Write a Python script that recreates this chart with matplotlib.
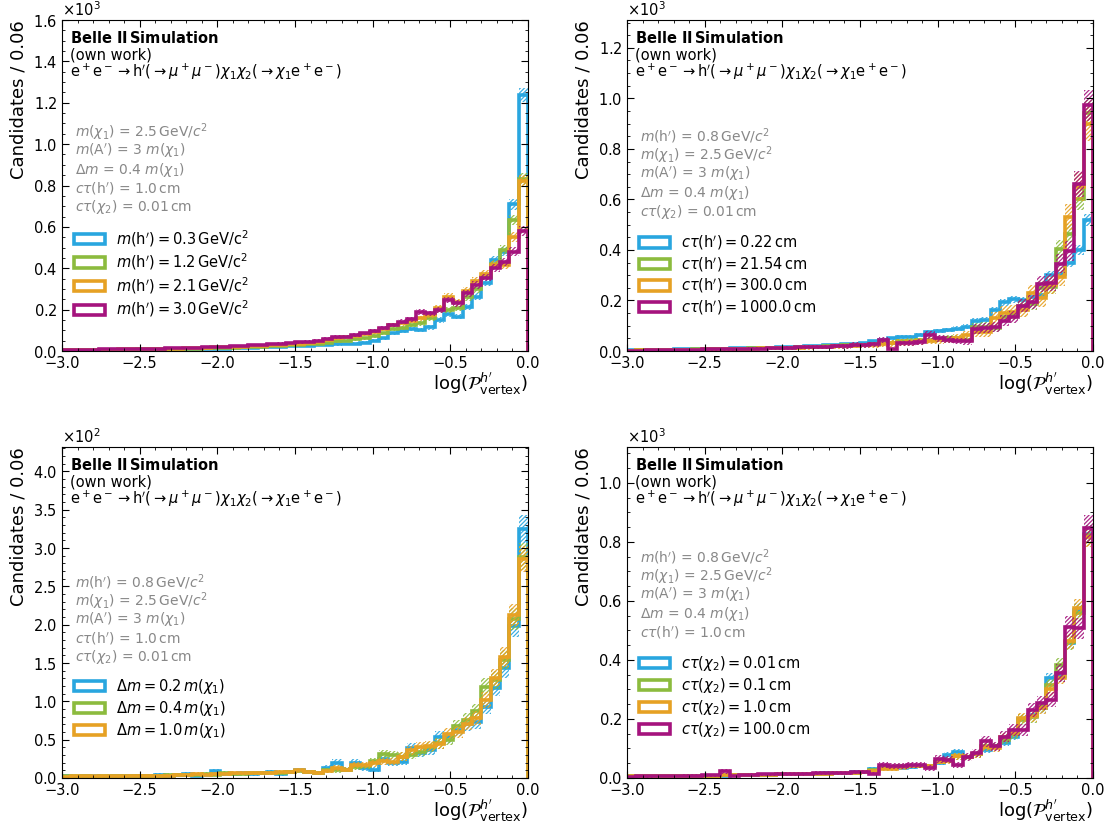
import matplotlib.pyplot as plt
import numpy as np
from matplotlib.patches import Patch
from matplotlib.ticker import AutoMinorLocator, MultipleLocator

plt.rcParams['font.family'] = 'DejaVu Sans'
plt.rcParams['mathtext.fontset'] = 'dejavusans'
plt.rcParams['hatch.linewidth'] = 0.9

# 50 bins of log(P_vertex) between -3 and 0
edges = np.linspace(-3.0, 0.0, 51)
colors = ['#29a6df', '#8cbb3e', '#e6a124', '#a5137d']

# --- m(h') scan (counts per bin)
mh_03 = [3, 3, 4, 4, 5, 5, 5, 6, 6, 7, 7, 8, 8, 9, 9, 10, 11, 12, 13, 14,
         15, 17, 18, 20, 22, 24, 26, 28, 30, 32, 34, 36, 40, 50, 62,
         85, 98, 105, 100, 114, 150, 180, 166, 214, 262, 330, 440, 480, 710, 1237]
mh_12 = [4, 4, 5, 5, 6, 6, 7, 7, 8, 8, 9, 10, 10, 11, 12, 13, 14, 15, 16, 18,
         19, 21, 23, 25, 27, 30, 33, 36, 40, 46, 50, 56, 62, 72, 85,
         105, 110, 126, 134, 158, 200, 198, 206, 260, 300, 360, 420, 490, 633, 831]
mh_21 = [5, 5, 6, 6, 7, 7, 8, 9, 9, 10, 11, 12, 12, 13, 14, 16, 17, 18, 20, 21,
         23, 26, 28, 31, 33, 36, 40, 45, 52, 62, 66, 74, 80, 92, 105,
         125, 134, 147, 158, 174, 206, 262, 235, 290, 340, 372, 415, 415, 552, 820]
mh_30 = [6, 6, 7, 7, 8, 8, 9, 10, 11, 11, 12, 13, 14, 15, 16, 18, 19, 21, 22, 24,
         27, 30, 33, 36, 39, 42, 45, 50, 60, 68, 70, 78, 85, 98, 110,
         126, 142, 153, 187, 182, 198, 246, 230, 280, 320, 355, 400, 430, 480, 581]
mh_labels = [r'$m(\mathrm{h}^\prime) = 0.3\,\mathrm{GeV/c^2}$',
             r'$m(\mathrm{h}^\prime) = 1.2\,\mathrm{GeV/c^2}$',
             r'$m(\mathrm{h}^\prime) = 2.1\,\mathrm{GeV/c^2}$',
             r'$m(\mathrm{h}^\prime) = 3.0\,\mathrm{GeV/c^2}$']

# --- c*tau(h') scan
ct_022 = [3, 4, 4, 5, 4, 6, 6, 7, 8, 9, 9, 10, 11, 12, 13, 13, 15, 16, 17, 19,
          20, 22, 24, 26, 28, 30, 38, 42, 50, 55, 56, 65, 76, 80, 83,
          88, 96, 118, 122, 162, 192, 205, 200, 215, 222, 300, 305, 350, 400, 518]
ct_2154 = [2, 3, 3, 4, 4, 5, 5, 6, 6, 7, 8, 8, 9, 10, 10, 11, 12, 13, 14, 16,
           17, 18, 20, 22, 24, 25, 28, 30, 33, 38, 40, 42, 45, 48, 50,
           50, 45, 95, 96, 90, 133, 142, 180, 188, 248, 254, 403, 465, 600, 942]
ct_300 = [2, 3, 3, 3, 4, 4, 5, 5, 6, 6, 7, 8, 8, 9, 10, 10, 11, 12, 13, 14,
          15, 16, 18, 19, 21, 22, 25, 27, 30, 33, 35, 38, 40, 42, 45,
          50, 63, 76, 76, 130, 149, 155, 162, 228, 208, 260, 294, 530, 650, 900]
ct_1000 = [2, 2, 3, 3, 4, 4, 5, 5, 6, 6, 7, 7, 8, 9, 9, 10, 11, 12, 14, 15,
           16, 17, 19, 18, 24, 22, 26, 43, 8, 30, 32, 35, 62, 50, 45,
           40, 38, 88, 92, 96, 120, 135, 180, 195, 265, 270, 345, 395, 660, 972]
ct_labels = [r'$c\tau(\mathrm{h}^\prime) = 0.22\,\mathrm{cm}$',
             r'$c\tau(\mathrm{h}^\prime) = 21.54\,\mathrm{cm}$',
             r'$c\tau(\mathrm{h}^\prime) = 300.0\,\mathrm{cm}$',
             r'$c\tau(\mathrm{h}^\prime) = 1000.0\,\mathrm{cm}$']

# --- mass splitting scan
dm_02 = [2, 1, 2, 2, 1, 2, 3, 2, 3, 2, 4, 3, 4, 5, 3, 4, 9, 5, 5, 6,
         5, 7, 8, 5, 8, 10, 8, 7, 13, 20, 11, 20, 13, 11, 25,
         20, 21, 39, 33, 36, 54, 53, 63, 70, 73, 93, 118, 143, 198, 325]
dm_04 = [2, 2, 2, 1, 2, 2, 3, 3, 3, 3, 3, 4, 4, 4, 4, 5, 4, 6, 5, 5,
         6, 6, 7, 7, 8, 9, 8, 7, 10, 10, 11, 14, 15, 22, 31,
         30, 28, 30, 34, 40, 45, 50, 68, 76, 87, 119, 128, 154, 208, 289]
dm_10 = [1, 2, 2, 2, 2, 2, 2, 3, 3, 3, 3, 3, 4, 4, 5, 4, 5, 5, 6, 6,
         6, 6, 7, 8, 8, 10, 8, 7, 9, 13, 11, 17, 17, 19, 22,
         21, 28, 36, 41, 42, 44, 58, 60, 71, 78, 102, 131, 158, 213, 286]
dm_labels = [r'$\Delta m = 0.2\,m(\chi_1)$',
             r'$\Delta m = 0.4\,m(\chi_1)$',
             r'$\Delta m = 1.0\,m(\chi_1)$']

# --- c*tau(chi2) scan
cx_001 = [5, 6, 5, 6, 7, 6, 7, 7, 8, 8, 8, 9, 10, 9, 11, 11, 12, 13, 13, 14,
          15, 16, 17, 18, 19, 20, 30, 34, 36, 35, 38, 40, 42, 50, 78,
          88, 70, 80, 96, 107, 119, 139, 200, 212, 237, 339, 345, 457, 570, 827]
cx_01 = [5, 5, 6, 6, 6, 7, 7, 7, 8, 8, 9, 9, 9, 10, 10, 11, 12, 12, 13, 14,
         15, 15, 16, 17, 18, 19, 28, 33, 36, 40, 42, 40, 40, 55, 60,
         73, 72, 80, 108, 107, 130, 148, 198, 205, 243, 315, 384, 460, 560, 822]
cx_10 = [5, 5, 5, 6, 6, 7, 7, 7, 8, 8, 9, 9, 9, 10, 11, 11, 12, 12, 13, 14,
         14, 15, 16, 17, 18, 19, 25, 30, 32, 36, 40, 42, 40, 55, 58,
         73, 70, 80, 105, 102, 139, 153, 203, 209, 237, 300, 340, 465, 576, 817]
cx_100 = [4, 5, 5, 6, 6, 7, 8, 8, 9, 9, 22, 6, 10, 11, 12, 12, 13, 14, 14, 15,
          16, 16, 17, 18, 19, 19, 15, 45, 42, 40, 43, 45, 34, 64, 62,
          45, 70, 85, 124, 107, 139, 164, 164, 229, 254, 265, 356, 512, 508, 847]
cx_labels = [r'$c\tau(\chi_2) = 0.01\,\mathrm{cm}$',
             r'$c\tau(\chi_2) = 0.1\,\mathrm{cm}$',
             r'$c\tau(\chi_2) = 1.0\,\mathrm{cm}$',
             r'$c\tau(\chi_2) = 100.0\,\mathrm{cm}$']

# event weights of the samples (set the size of the stat. uncertainty)
mh_w = [1, 1, 1, 1]
ct_w = [1, 3, 5, 4]
dm_w = [1, 1, 1]
cx_w = [1, 1.5, 1.5, 2.5]

p_mh = r'$m(\mathrm{h}^\prime)$ = 0.8$\,$GeV/$c^2$'
p_mx = r'$m(\chi_1)$ = 2.5$\,$GeV/$c^2$'
p_ma = r'$m(\mathrm{A}^\prime)$ = 3 $m(\chi_1)$'
p_dm = r'$\Delta m$ = 0.4 $m(\chi_1)$'
p_cth = r'$c\tau(\mathrm{h}^\prime)$ = 1.0$\,$cm'
p_ctx = r'$c\tau(\chi_2)$ = 0.01$\,$cm'

process = (r'$\mathrm{e^+e^-}\rightarrow\mathrm{h}^\prime(\rightarrow\mu^+\mu^-)'
           r'\chi_1\chi_2(\rightarrow\chi_1\mathrm{e^+e^-})$')


def panel(ax, hists, labels, weights, params, ytop, ystep, ptop, ltop):
    centers = 0.5 * (edges[1:] + edges[:-1])
    for h, c, w in zip(hists, colors, weights):
        h = np.array(h, dtype=float)
        err = np.sqrt(w * h)
        ax.bar(centers, 2 * err, bottom=h - err, width=0.06, fill=False,
               hatch='////////', edgecolor=c, linewidth=0, alpha=0.9)
        ax.stairs(h, edges, color=c, linewidth=2.6, baseline=0)

    ax.set_xlim(-3.0, 0.0)
    ax.set_ylim(0, ytop)
    ax.xaxis.set_major_locator(MultipleLocator(0.5))
    ax.xaxis.set_minor_locator(AutoMinorLocator(5))
    ax.yaxis.set_major_locator(MultipleLocator(ystep))
    ax.yaxis.set_minor_locator(AutoMinorLocator())
    ax.ticklabel_format(axis='y', style='sci', scilimits=(0, 0), useMathText=True)
    ax.yaxis.get_offset_text().set_fontsize(10.5)
    ax.tick_params(which='both', direction='in', top=True, right=True, labelsize=10.5)
    ax.tick_params(which='major', length=5)
    ax.tick_params(which='minor', length=2.5)

    ax.set_xlabel(r'$\log(\mathcal{P}^{h^\prime}_{\mathrm{vertex}})$', loc='right',
                  fontsize=13, labelpad=0)
    ax.set_ylabel('Candidates / 0.06', loc='top', fontsize=13)

    ax.text(0.017, 0.946, r'Belle II$\,$Simulation', transform=ax.transAxes,
            fontsize=10.5, fontweight='bold', va='center')
    ax.text(0.017, 0.894, '(own work)', transform=ax.transAxes, fontsize=10.5, va='center')
    ax.text(0.017, 0.843, process, transform=ax.transAxes, fontsize=10.5, va='center')
    for i, p in enumerate(params):
        ax.text(0.028, ptop - 0.057 * i, p, transform=ax.transAxes, fontsize=10,
                color='#888888', va='center')

    handles = [Patch(facecolor='none', edgecolor=c, linewidth=2.6) for c in colors[:len(labels)]]
    ax.legend(handles, labels, loc='upper left', bbox_to_anchor=(0.026, ltop),
              frameon=False, fontsize=10.5, borderpad=0, borderaxespad=0,
              handlelength=2.1, handleheight=0.7, handletextpad=0.75, labelspacing=0.2)


fig = plt.figure(figsize=(11.09, 8.30), dpi=100)
ax1 = fig.add_axes([0.0559, 0.5771, 0.4202, 0.3988])
ax2 = fig.add_axes([0.5654, 0.5771, 0.4202, 0.3988])
ax3 = fig.add_axes([0.0559, 0.0627, 0.4202, 0.3988])
ax4 = fig.add_axes([0.5654, 0.0627, 0.4202, 0.3988])

panel(ax1, [mh_03, mh_12, mh_21, mh_30], mh_labels, mh_w,
      [p_mx, p_ma, p_dm, p_cth, p_ctx], 1600, 200, 0.662, 0.372)
panel(ax2, [ct_022, ct_2154, ct_300, ct_1000], ct_labels, ct_w,
      [p_mh, p_mx, p_ma, p_dm, p_ctx], 1310, 200, 0.648, 0.355)
panel(ax3, [dm_02, dm_04, dm_10], dm_labels, dm_w,
      [p_mh, p_mx, p_ma, p_cth, p_ctx], 432, 50, 0.592, 0.305)
panel(ax4, [cx_001, cx_01, cx_10, cx_100], cx_labels, cx_w,
      [p_mh, p_mx, p_ma, p_dm, p_cth], 1122, 200, 0.666, 0.374)

fig.savefig('out.png', dpi=100)
